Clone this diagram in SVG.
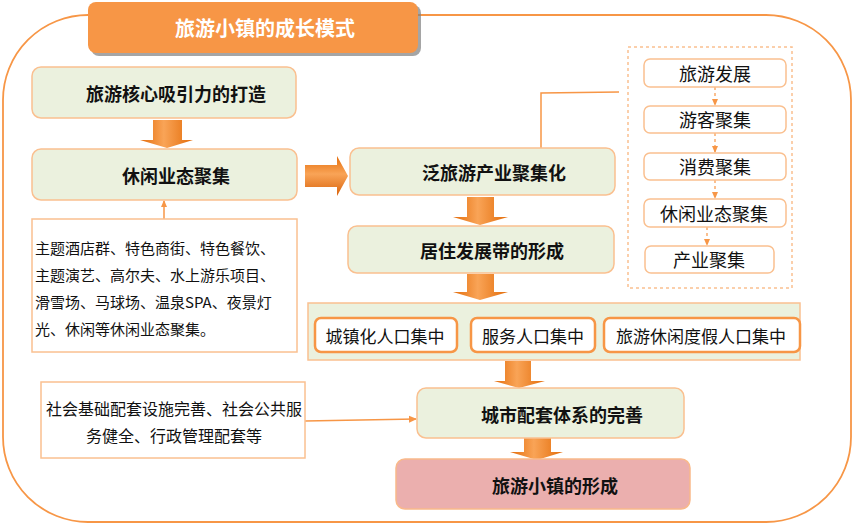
<svg xmlns="http://www.w3.org/2000/svg" width="854" height="526" viewBox="0 0 854 526">
<style>
.lbl{font-family:"Noto Sans CJK SC","Noto Sans",sans-serif;font-weight:bold;font-size:18px;fill:#111;text-anchor:middle;dominant-baseline:central}
.reg{font-family:"Noto Sans CJK SC","Noto Sans",sans-serif;font-size:17px;fill:#111;text-anchor:middle;dominant-baseline:central}
.small{font-family:"Noto Sans CJK SC","Noto Sans",sans-serif;font-size:15px;fill:#111;dominant-baseline:central}
.green{fill:#EBF1DE;stroke:#FAC090;stroke-width:1.5}
.white{fill:#fff;stroke:#FAC090;stroke-width:1.5}
.pop{fill:#fff;stroke:#F79646;stroke-width:2.5}
.thin{fill:none;stroke:#F79646;stroke-width:1.5}
.dash{fill:none;stroke:#F79646;stroke-width:1.2;stroke-dasharray:3 3}
.fatv{fill:url(#gv)}
.fath{fill:url(#gh)}
</style>
<defs>
<linearGradient id="gv" x1="0" y1="0" x2="1" y2="0">
<stop offset="0" stop-color="#E46C0A"/>
<stop offset="0.45" stop-color="#F9A457"/>
<stop offset="1" stop-color="#E36C09"/>
</linearGradient>
<linearGradient id="gh" x1="0" y1="0" x2="0" y2="1">
<stop offset="0" stop-color="#E46C0A"/>
<stop offset="0.45" stop-color="#F9A457"/>
<stop offset="1" stop-color="#D9620A"/>
</linearGradient>
<marker id="ah" markerWidth="8" markerHeight="8" refX="7" refY="4" orient="auto" markerUnits="userSpaceOnUse">
<path d="M0,0.5 L8,4 L0,7.5 Z" fill="#F79646"/>
</marker>
<marker id="ahs" markerWidth="7" markerHeight="7" refX="6" refY="3.5" orient="auto" markerUnits="userSpaceOnUse">
<path d="M0,0.5 L7,3.5 L0,6.5 Z" fill="#F79646"/>
</marker>
</defs>

<rect id="frame" x="3" y="15" width="848" height="507" rx="85" ry="85" fill="none" stroke="#F79646" stroke-width="1.8"/>

<g id="title">
<rect x="91" y="5" width="330" height="51" rx="8" fill="#7F7F7F" opacity="0.7"/>
<rect x="88" y="2" width="330" height="51" rx="8" fill="#F79646"/>
<text x="265" y="27" class="lbl" style="font-size:20px;fill:#fff">旅游小镇的成长模式</text>
</g>

<g id="connectors">
<path class="fatv" d="M153,120 H182 V140 H193 L167,148 L140,140 H153 Z"/>
<path class="fath" d="M305,165 H337 V156 L348,176 L337,196 V187 H305 Z"/>
<path class="fatv" d="M467,197 H494 V217 H508 L480,225 L453,217 H467 Z"/>
<path class="fatv" d="M467,274 H494 V292 H508 L480,300 L453,292 H467 Z"/>
<path class="fatv" d="M505,361 H531 V381 H545 L519,388 L494,381 H505 Z"/>
<path class="fatv" d="M524,438 H551 V452 H563 L537,460 L510,452 H524 Z"/>
<line class="thin" x1="164" y1="219" x2="164" y2="201" marker-end="url(#ahs)"/>
<line class="thin" x1="305" y1="421" x2="416" y2="419" marker-end="url(#ah)"/>
<polyline class="thin" points="541,148 541,93 619,92"/>
<line class="dash" x1="715" y1="87" x2="715" y2="105" marker-end="url(#ahs)"/>
<line class="dash" x1="715" y1="133" x2="715" y2="152" marker-end="url(#ahs)"/>
<line class="dash" x1="715" y1="180" x2="715" y2="198" marker-end="url(#ahs)"/>
<line class="dash" x1="707" y1="227" x2="707" y2="245" marker-end="url(#ahs)"/>
</g>

<g id="n1"><rect class="green" x="32" y="67" width="264" height="51" rx="9"/><text x="176" y="93" class="lbl">旅游核心吸引力的打造</text></g>
<g id="n2"><rect class="green" x="32" y="149" width="265" height="51" rx="9"/><text x="176" y="175" class="lbl">休闲业态聚集</text></g>
<g id="n3"><rect class="white" x="32" y="219" width="265" height="133"/>
<text class="small" x="35" y="247">主题酒店群、特色商街、特色餐饮、</text>
<text class="small" x="35" y="274">主题演艺、高尔夫、水上游乐项目、</text>
<text class="small" x="35" y="301">滑雪场、马球场、温泉SPA、夜景灯</text>
<text class="small" x="35" y="328">光、休闲等休闲业态聚集。</text>
</g>
<g id="n4"><rect class="green" x="350" y="148" width="265" height="47" rx="9"/><text x="494" y="172" class="lbl">泛旅游产业聚集化</text></g>
<g id="n5"><rect class="green" x="348" y="226" width="266" height="47" rx="9"/><text x="492" y="250" class="lbl">居住发展带的形成</text></g>

<g id="dashbox"><rect class="dash" x="628" y="47" width="164" height="241" fill="none" stroke="#FAC090" style="stroke:#FAC090;stroke-width:1.5"/></g>
<g id="s1"><rect class="white" x="644" y="59" width="142" height="28" rx="6"/><text x="715" y="73" class="reg" style="font-size:18px">旅游发展</text></g>
<g id="s2"><rect class="white" x="644" y="106" width="142" height="27" rx="6"/><text x="715" y="119" class="reg" style="font-size:18px">游客聚集</text></g>
<g id="s3"><rect class="white" x="644" y="153" width="142" height="27" rx="6"/><text x="715" y="166" class="reg" style="font-size:18px">消费聚集</text></g>
<g id="s4"><rect class="white" x="644" y="199" width="142" height="28" rx="6"/><text x="714" y="213" class="reg" style="font-size:18px">休闲业态聚集</text></g>
<g id="s5"><rect class="white" x="645" y="246" width="129" height="27" rx="6"/><text x="709" y="259" class="reg" style="font-size:18px">产业聚集</text></g>

<g id="band"><rect class="green" x="308" y="303" width="492" height="57"/></g>
<g id="p1"><rect class="pop" x="315" y="318" width="142" height="34" rx="6"/><text x="385" y="335" class="reg">城镇化人口集中</text></g>
<g id="p2"><rect class="pop" x="471" y="318" width="124" height="34" rx="6"/><text x="533" y="335" class="reg">服务人口集中</text></g>
<g id="p3"><rect class="pop" x="604" y="318" width="196" height="34" rx="6"/><text x="701" y="335" class="reg">旅游休闲度假人口集中</text></g>

<g id="n6"><rect class="white" x="41" y="382" width="264" height="76"/>
<text x="174" y="408" class="reg" style="font-size:16px">社会基础配套设施完善、社会公共服</text>
<text x="174" y="435" class="reg" style="font-size:16px">务健全、行政管理配套等</text>
</g>
<g id="n7"><rect class="green" x="417" y="388" width="267" height="50" rx="9"/><text x="562" y="414" class="lbl">城市配套体系的完善</text></g>
<g id="n8"><rect x="396" y="459" width="294" height="50" rx="9" fill="#EBAFAE" stroke="#F9B98A" stroke-width="1.5"/><text x="555" y="485" class="lbl">旅游小镇的形成</text></g>
</svg>
